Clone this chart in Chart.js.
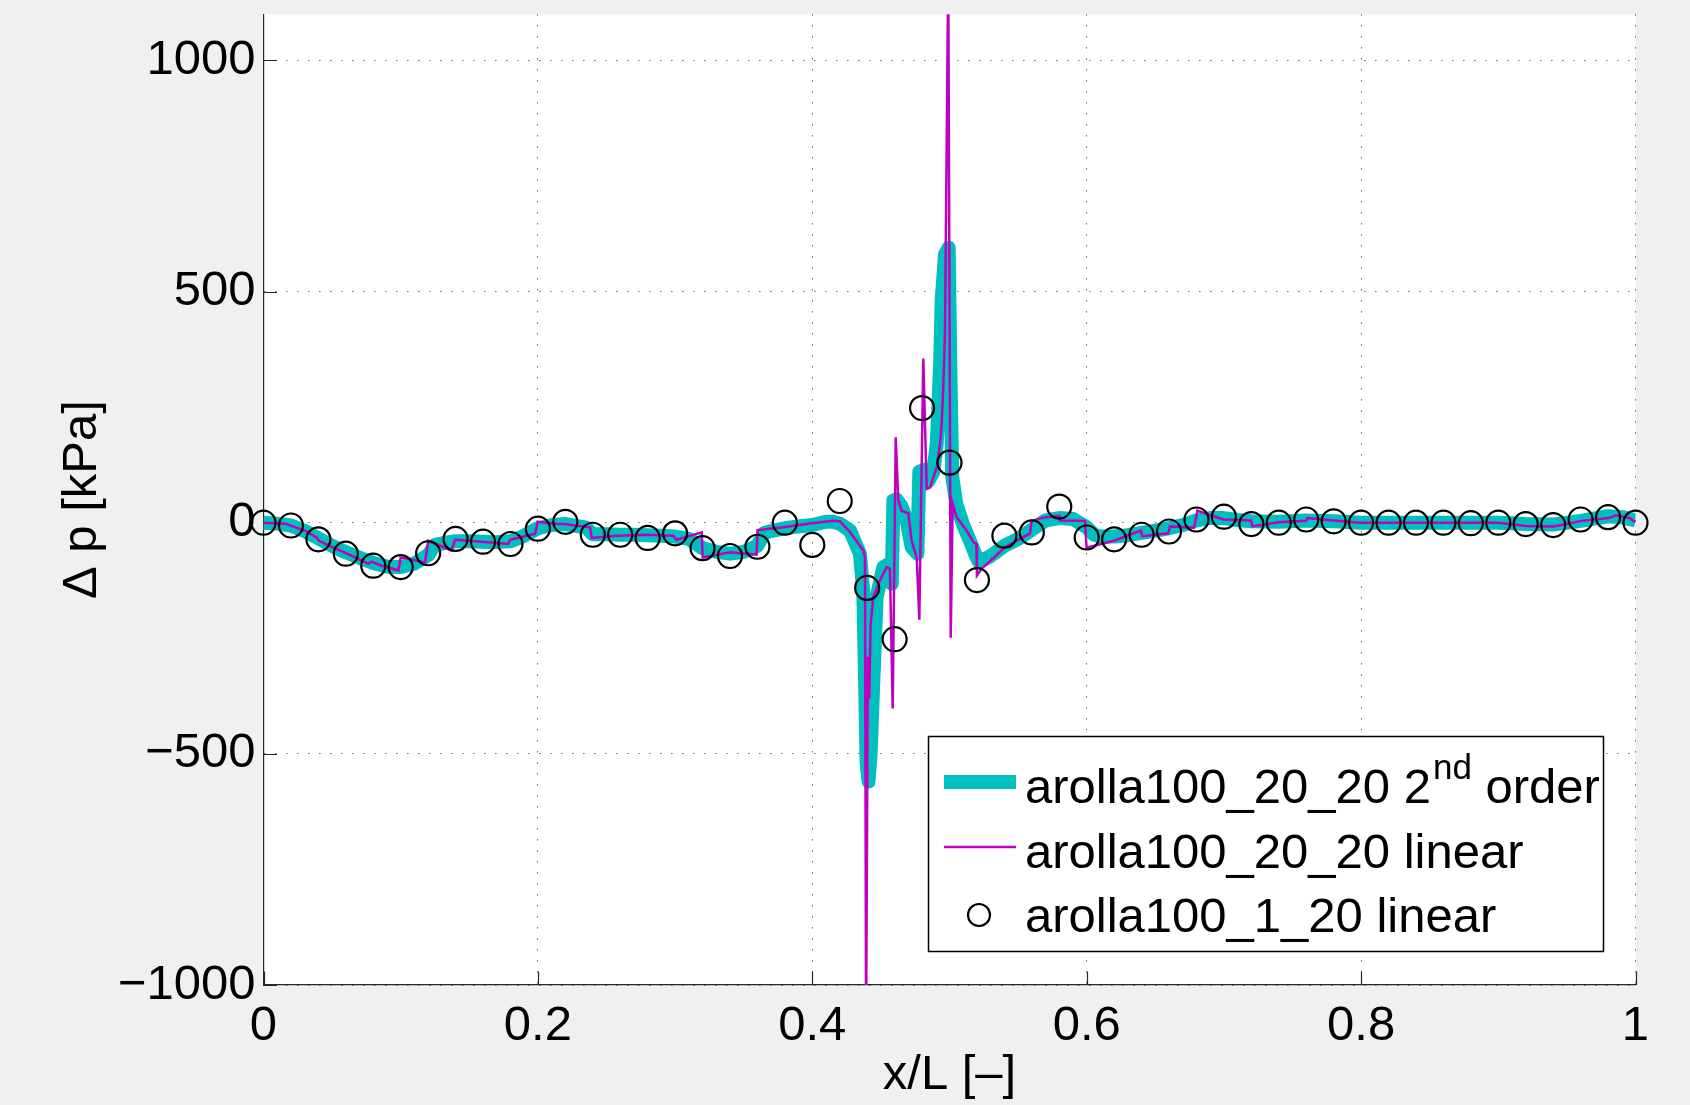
<!DOCTYPE html>
<html>
<head>
<meta charset="utf-8">
<title>Δp along x/L</title>
<script src="https://cdn.jsdelivr.net/npm/chart.js@4.4.1/dist/chart.umd.min.js"></script>
<style>
  html, body { margin: 0; padding: 0; background: #f0f0f0; }
  #wrap { width: 1690px; height: 1105px; position: relative; }
</style>
</head>
<body>
<div id="wrap"><canvas id="dp"></canvas></div>
<script>
// arolla100_20_20, 2nd order elements
const secondOrderX = [0, 0.01, 0.02, 0.03, 0.04, 0.05, 0.06, 0.07, 0.08, 0.09, 0.10, 0.11, 0.12, 0.125, 0.13, 0.14, 0.15, 0.16, 0.17, 0.18, 0.19, 0.20,
  0.21, 0.22, 0.23, 0.235, 0.24, 0.25, 0.26, 0.27, 0.28, 0.29, 0.30, 0.31, 0.32, 0.33, 0.34, 0.35, 0.36, 0.365, 0.37, 0.38, 0.39, 0.40,
  0.41, 0.415, 0.42, 0.4275, 0.4347, 0.4372, 0.4384, 0.4396, 0.4410, 0.4425, 0.4445, 0.4469, 0.4518, 0.4554, 0.4579, 0.4591, 0.4615,
  0.4651, 0.4688, 0.4724, 0.4766, 0.4780, 0.4822, 0.4846, 0.4882, 0.4907, 0.4931, 0.4943, 0.4967, 0.4994, 0.5008, 0.5020, 0.5050,
  0.5100, 0.5150, 0.5190, 0.5215, 0.53, 0.54, 0.55, 0.56, 0.57, 0.58, 0.59, 0.60, 0.605, 0.61, 0.62, 0.63, 0.64, 0.65, 0.66, 0.67,
  0.68, 0.69, 0.70, 0.71, 0.72, 0.74, 0.76, 0.78, 0.80, 0.84, 0.88, 0.90, 0.92, 0.94, 0.96, 0.98, 0.99, 1.00];
const secondOrderY = [0, -2, -6, -18, -34, -50, -64, -76, -87, -95, -96, -88, -70, -48, -45, -40, -40, -41, -42, -40, -28, -12,
  -5, -3, -8, -10, -25, -25, -26, -26, -27, -28, -30, -35, -55, -63, -67, -63, -50, -22, -18, -12, -8, -5,
  2, 2, -2, -17, -67, -150, -330, -520, -560, -500, -341, -161, -96, -90, -132, 48, 50,
  35, 5, -53, -67, 110, 115, 90, 110, 170, 336, 480, 580, 595, 300, 100, 40,
  -5, -40, -70, -85, -72, -50, -35, -15, 5, 10, 8, -10, -25, -30, -30, -27, -22, -17, -12, -5,
  5, 10, 10, 6, 3, 2, 5, 3, 0, 0, 0, 0, -3, -4, 4, 14, 12, 5];

// arolla100_20_20, linear elements
const linearX = [0, 0.0157, 0.0302, 0.0387, 0.0400, 0.0473, 0.0589, 0.0667, 0.0764, 0.0788, 0.0861, 0.0983, 0.1000, 0.1177, 0.1201,
  0.1371, 0.1396, 0.1590, 0.1784, 0.1797, 0.1979, 0.1998, 0.2124, 0.2190, 0.2380, 0.2392, 0.2574, 0.2793, 0.2987, 0.3011, 0.3194,
  0.3201, 0.3400, 0.3594, 0.3601, 0.3789, 0.3995, 0.4153, 0.4200, 0.4275, 0.4372, 0.4384, 0.4392, 0.4405, 0.4415, 0.4425, 0.4445,
  0.4493, 0.4542, 0.4566, 0.4586, 0.4608, 0.4627, 0.4651, 0.4700, 0.4724, 0.4761, 0.4780, 0.4809, 0.4834, 0.4858, 0.4907, 0.4931,
  0.4943, 0.4955, 0.4967, 0.4991, 0.5009, 0.5023, 0.5052, 0.5125, 0.5174, 0.5196, 0.5200, 0.5235, 0.5319, 0.5399, 0.5514, 0.5587,
  0.5599, 0.5684, 0.5800, 0.5805, 0.5987, 0.5999, 0.6198, 0.6393, 0.6406, 0.6594, 0.6607, 0.6782, 0.6807, 0.6996, 0.7196, 0.7209,
  0.7397, 0.7598, 0.7610, 0.7799, 0.7999, 0.8400, 0.8800, 0.9000, 0.9204, 0.9405, 0.9606, 0.9807, 0.9857, 0.9957, 1.0000];
const linearY = [0, -2, -17, -32, -38, -49, -64, -75, -89, -84, -93, -103, -75, -86, -39,
  -60, -37, -41, -46, -37, -24, 2, -2, -3, -10, -33, -28, -26, -28, -37, -21,
  -75, -64, -69, -16, -10, -1, 4, 3, -20, -60, -75, -1100, -290, -380, -220, -160,
  -125, -96, -100, -402, 185, 48, 26, 20, -39, -75, -210, 355, 73, 76, 120, 170,
  213, 296, 411, 1200, -249, 41, 12, -17, -42, -46, -114, -99, -77, -54, -35, -23,
  4, 11, 15, 5, 4, -54, -39, -17, -29, -23, -8, -11, 26, 7, 5, -8,
  1, 4, 10, 5, 0, 0, 0, 0, -7, -8, 4, 10, 16, 10, 1];

// arolla100_1_20, linear elements (coarse samples)
const coarseX = [0, 0.02, 0.04, 0.06, 0.08, 0.10, 0.12, 0.14, 0.16, 0.18, 0.20, 0.22, 0.24, 0.26, 0.28, 0.30, 0.32, 0.34, 0.36,
  0.38, 0.40, 0.42, 0.44, 0.46, 0.48, 0.50, 0.52, 0.54, 0.56, 0.58, 0.60, 0.62, 0.64, 0.66, 0.68, 0.70, 0.72, 0.74, 0.76,
  0.78, 0.80, 0.82, 0.84, 0.86, 0.88, 0.90, 0.92, 0.94, 0.96, 0.98, 1.00];
const coarseY = [0, -6, -36, -67, -93, -96, -66, -35, -41, -46, -13, 2, -26, -26, -33, -23, -55, -72, -52,
  0, -48, 47, -141, -252, 248, 130, -124, -28, -21, 35, -32, -36, -26, -19, 7, 13, -3, 0, 7,
  3, 0, 0, 0, 0, -1, 0, -3, -5, 7, 12, 0];

const xTicks = [0, 0.2, 0.4, 0.6, 0.8, 1];
const yTicks = [-1000, -500, 0, 500, 1000];

const FONT = 'Liberation Sans, Arial, Helvetica, sans-serif';
const FONT_SIZE = 49;
const CYAN = '#00bfbf';
const MAGENTA = '#bf00bf';

const toPoints = (xs, ys) => xs.map((x, i) => ({ x: x, y: ys[i] }));

// white axes background, like a MATLAB axes on a grey figure
const plotBackground = {
  id: 'plotBackground',
  beforeDraw(chart) {
    const { ctx, chartArea: a } = chart;
    ctx.save();
    ctx.fillStyle = '#ffffff';
    ctx.fillRect(a.left, a.top, a.right - a.left, a.bottom - a.top);
    ctx.restore();
  }
};

// tick marks pointing into the plot
const inwardTicks = {
  id: 'inwardTicks',
  beforeDatasetsDraw(chart) {
    const { ctx, chartArea: a, scales } = chart;
    const len = 13.5;
    ctx.save();
    ctx.strokeStyle = '#262626';
    ctx.lineWidth = 1.2;
    ctx.beginPath();
    xTicks.forEach(v => {
      const px = Math.round(scales.x.getPixelForValue(v)) + 0.5;
      ctx.moveTo(px, a.bottom);
      ctx.lineTo(px, a.bottom - len);
    });
    yTicks.forEach(v => {
      const py = Math.round(scales.y.getPixelForValue(v)) + 0.5;
      ctx.moveTo(a.left, py);
      ctx.lineTo(a.left + len, py);
    });
    ctx.stroke();
    ctx.restore();
  }
};

// boxed legend with a superscript in the first entry
const boxLegend = {
  id: 'boxLegend',
  afterDraw(chart) {
    const { ctx } = chart;
    const ds = chart.data.datasets;
    const box = { left: 928.5, top: 736.5, right: 1603.5, bottom: 951.5 };
    const textX = 1025;
    const rows = [803, 868, 932];
    ctx.save();
    ctx.fillStyle = '#ffffff';
    ctx.fillRect(box.left, box.top, box.right - box.left, box.bottom - box.top);
    ctx.strokeStyle = '#000000';
    ctx.lineWidth = 1.5;
    ctx.strokeRect(box.left, box.top, box.right - box.left, box.bottom - box.top);

    // line samples
    [ds[0], ds[1]].forEach((d, i) => {
      const y = rows[i] - 21;
      ctx.strokeStyle = d.borderColor;
      ctx.lineWidth = d.borderWidth;
      ctx.beginPath();
      ctx.moveTo(944, y);
      ctx.lineTo(1016, y);
      ctx.stroke();
    });
    // marker sample
    ctx.strokeStyle = ds[2].pointBorderColor;
    ctx.lineWidth = ds[2].pointBorderWidth;
    ctx.beginPath();
    ctx.arc(979, rows[2] - 17, 11, 0, Math.PI * 2);
    ctx.stroke();

    ctx.fillStyle = '#000000';
    ctx.textBaseline = 'alphabetic';
    ctx.textAlign = 'left';
    ctx.font = FONT_SIZE + 'px ' + FONT;
    const first = 'arolla100_20_20 2';
    ctx.fillText(first, textX, rows[0]);
    let x = textX + ctx.measureText(first).width + 2;
    ctx.font = '35px ' + FONT;
    ctx.fillText('nd', x, rows[0] - 24);
    x += ctx.measureText('nd').width;
    ctx.font = FONT_SIZE + 'px ' + FONT;
    ctx.fillText(' order', x, rows[0]);
    ctx.fillText(ds[1].label, textX, rows[1]);
    ctx.fillText(ds[2].label, textX, rows[2]);
    ctx.restore();
  }
};

const minusLabel = v => (v < 0 ? '\u2212' + Math.abs(v) : String(v));

new Chart(document.getElementById('dp'), {
  type: 'line',
  data: {
    datasets: [
      {
        label: 'arolla100_20_20 2nd order',
        data: toPoints(secondOrderX, secondOrderY),
        borderColor: CYAN,
        borderWidth: 14,
        borderJoinStyle: 'round',
        pointRadius: 0,
        tension: 0,
        order: 3
      },
      {
        label: 'arolla100_20_20 linear',
        data: toPoints(linearX, linearY),
        borderColor: MAGENTA,
        borderWidth: 2.5,
        pointRadius: 0,
        tension: 0,
        order: 2
      },
      {
        label: 'arolla100_1_20 linear',
        data: toPoints(coarseX, coarseY),
        showLine: false,
        pointStyle: 'circle',
        pointRadius: 12,
        pointBorderWidth: 2.2,
        pointBorderColor: '#000000',
        pointBackgroundColor: 'rgba(0,0,0,0)',
        clip: false,
        order: 1
      }
    ]
  },
  options: {
    responsive: true,
    maintainAspectRatio: false,
    animation: false,
    events: [],
    layout: { padding: { top: 13, right: 54.5, left: 0, bottom: 0 } },
    plugins: {
      legend: { display: false },
      tooltip: { enabled: false }
    },
    scales: {
      x: {
        type: 'linear',
        min: 0,
        max: 1,
        afterFit: s => { s.height = 120; s.paddingLeft = 0; s.paddingRight = 0; },
        afterBuildTicks: s => { s.ticks = xTicks.map(v => ({ value: v })); },
        ticks: {
          padding: 12,
          color: '#000000',
          font: { family: FONT, size: FONT_SIZE },
          maxRotation: 0,
          callback: v => String(Number(v.toFixed(1)))
        },
        grid: { color: '#555555', lineWidth: 1, drawTicks: false },
        border: { display: true, color: '#262626', width: 1.2, dash: [1.3, 9.7] },
        title: {
          display: true,
          text: 'x/L [\u2013]',
          color: '#000000',
          font: { family: FONT, size: FONT_SIZE },
          padding: { top: 0, bottom: 0 }
        }
      },
      y: {
        type: 'linear',
        min: -1000,
        max: 1100,
        afterFit: s => { s.width = 263.5; s.paddingTop = 0; s.paddingBottom = 0; },
        afterBuildTicks: s => { s.ticks = yTicks.map(v => ({ value: v })); },
        ticks: {
          padding: 8,
          color: '#000000',
          font: { family: FONT, size: FONT_SIZE },
          callback: v => minusLabel(v)
        },
        grid: { color: '#555555', lineWidth: 1, drawTicks: false },
        border: { display: true, color: '#262626', width: 1.2, dash: [1.3, 9.7] },
        title: {
          display: true,
          text: '\u0394 p [kPa]',
          color: '#000000',
          font: { family: FONT, size: FONT_SIZE },
          padding: { top: 53, bottom: 0 }
        }
      }
    }
  },
  plugins: [plotBackground, inwardTicks, boxLegend]
});
</script>
</body>
</html>
